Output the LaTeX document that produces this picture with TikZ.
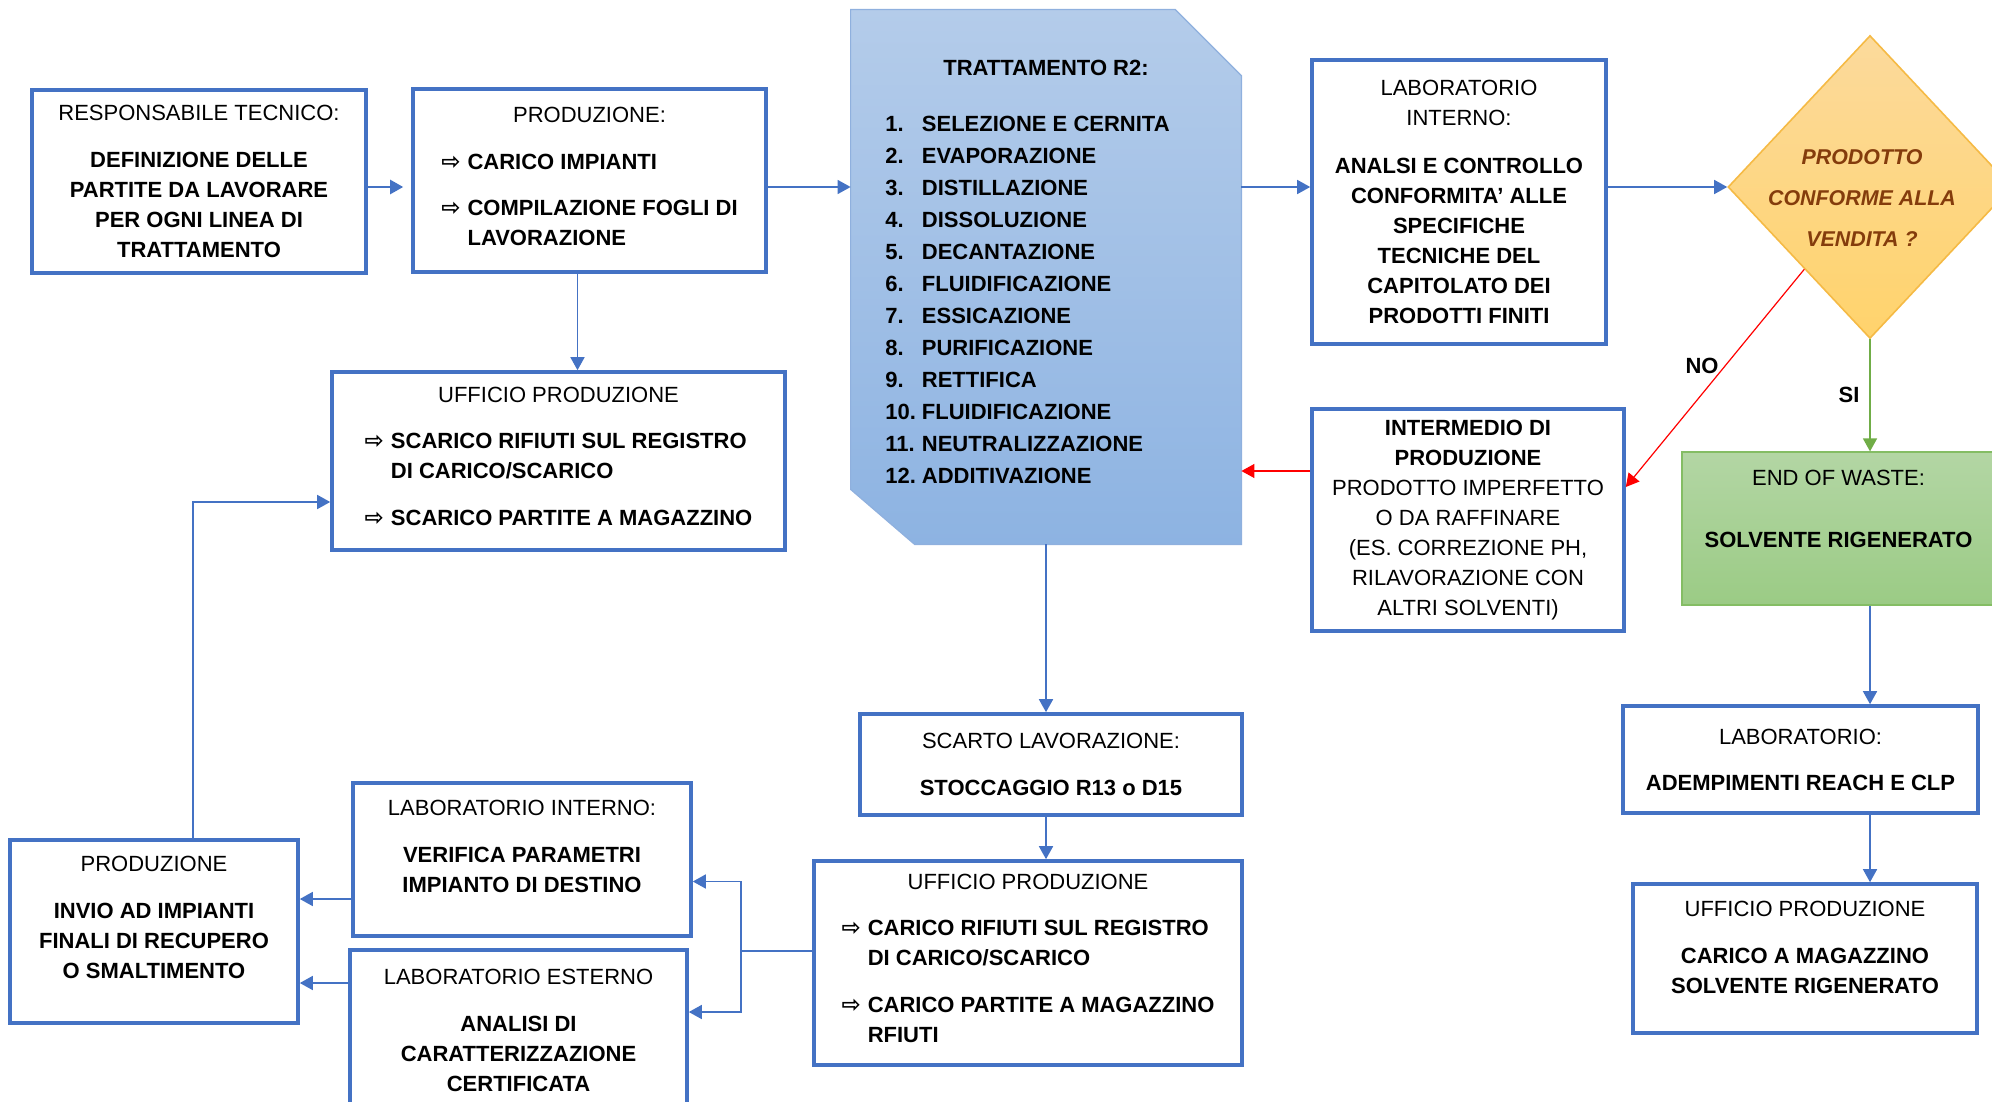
\documentclass[tikz,border=0pt]{standalone}
\usepackage{fontspec}
\setmainfont{Liberation Sans}
\newfontfamily\arrowfont{DejaVu Sans}
\usepackage{tikz}
\usetikzlibrary{arrows.meta,positioning,calc,shapes.geometric,backgrounds}

\definecolor{boxBlue}{HTML}{4472C4}
\definecolor{trattTop}{HTML}{B4CCEA}
\definecolor{trattBot}{HTML}{8DB3E2}
\definecolor{trattEdge}{HTML}{8FB0DE}
\definecolor{decTop}{HTML}{FCDA9C}
\definecolor{decBot}{HTML}{FFD36C}
\definecolor{decEdge}{HTML}{F5BA45}
\definecolor{decText}{HTML}{843C0C}
\definecolor{eowTop}{HTML}{B3D6A4}
\definecolor{eowBot}{HTML}{9BCB85}
\definecolor{eowEdge}{HTML}{84BD64}
\definecolor{siGreen}{HTML}{70AD47}

\newcommand{\freccia}{{\arrowfont\bfseries\fontsize{11.5}{15}\selectfont ⇨}}

\begin{document}
\begin{tikzpicture}[
  x=0.5pt, y=-0.5pt,
  every node/.style={font=\fontsize{11}{15}\selectfont},
  process/.style={draw=boxBlue, line width=1.8pt, fill=white, align=center, inner sep=0pt},
  treatment/.style={align=center, inner sep=0pt, font=\fontsize{11}{16}\selectfont\bfseries},
  decisionbox/.style={diamond, draw=decEdge, line width=0.8pt, top color=decTop, bottom color=decBot, inner sep=0pt, minimum width=142pt, minimum height=151.5pt},
  decisiontext/.style={align=center, text=decText, font=\fontsize{10.7}{20.5}\selectfont\bfseries\itshape},
  endbox/.style={draw=eowEdge, line width=0.6pt, top color=eowTop, bottom color=eowBot, align=center, inner sep=0pt},
  answer/.style={font=\fontsize{11}{15}\selectfont\bfseries},
  link/.style={draw=boxBlue, line width=0.8pt},
  arrow/.style={-{Triangle[length=6.5pt,width=7pt]}, draw=boxBlue, line width=0.8pt},
  noarrow/.style={-{Triangle[length=6.5pt,width=7pt]}, draw=red, line width=0.6pt},
  siarrow/.style={-{Triangle[length=6.5pt,width=7pt]}, draw=siGreen, line width=0.8pt}
]
\useasboundingbox (0,0) rectangle (1992,1102);

% top row
\node[process, minimum width=167pt, minimum height=91.5pt] (respTec) at (199,181.5)
  {RESPONSABILE TECNICO:\\[8.5pt]\textbf{DEFINIZIONE DELLE}\\\textbf{PARTITE DA LAVORARE}\\\textbf{PER OGNI LINEA DI}\\\textbf{TRATTAMENTO}};
\node[process, minimum width=176.5pt, minimum height=91.5pt] (prodCarico) at (589.5,180.5)
  {PRODUZIONE:\\[8.5pt]
   \begin{tabular}[t]{@{}l@{\hspace{3.5pt}}l@{}}
   \freccia & \textbf{CARICO IMPIANTI}\\[8pt]
   \freccia & \textbf{COMPILAZIONE FOGLI DI}\\
            & \textbf{LAVORAZIONE}
   \end{tabular}};
\node[process, minimum width=226.5pt, minimum height=89pt] (uffScarico) at (558.5,461)
  {UFFICIO PRODUZIONE\\[8pt]
   \begin{tabular}[t]{@{}l@{\hspace{3.5pt}}l@{}}
   \freccia & \textbf{SCARICO RIFIUTI SUL REGISTRO}\\
            & \textbf{DI CARICO/SCARICO}\\[8.5pt]
   \freccia & \textbf{SCARICO PARTITE A MAGAZZINO}
   \end{tabular}};

\node[treatment, minimum width=195pt, minimum height=267pt] (trattR2) at (1046,277)
  {TRATTAMENTO R2:\\[12pt]
   \begin{tabular}[t]{@{}l@{\hspace{3pt}}l@{\hspace{18.5pt}}}
   1. & SELEZIONE E CERNITA\\
   2. & EVAPORAZIONE\\
   3. & DISTILLAZIONE\\
   4. & DISSOLUZIONE\\
   5. & DECANTAZIONE\\
   6. & FLUIDIFICAZIONE\\
   7. & ESSICAZIONE\\
   8. & PURIFICAZIONE\\
   9. & RETTIFICA\\
   10. & FLUIDIFICAZIONE\\
   11. & NEUTRALIZZAZIONE\\
   12. & ADDITIVAZIONE
   \end{tabular}};
\begin{scope}[on background layer]
  \path[draw=trattEdge, line width=0.6pt, top color=trattTop, bottom color=trattBot]
    (trattR2.north west) -- ([xshift=-33pt]trattR2.north east) -- ([yshift=-33pt]trattR2.north east)
    -- (trattR2.south east) -- ([xshift=32pt]trattR2.south west) -- ([yshift=27.5pt]trattR2.south west) -- cycle;
\end{scope}

\node[process, minimum width=147pt, minimum height=142pt] (labInterno) at (1459,202)
  {LABORATORIO\\INTERNO:\\[9pt]\textbf{ANALSI E CONTROLLO}\\\textbf{CONFORMITA’ ALLE}\\\textbf{SPECIFICHE}\\\textbf{TECNICHE DEL}\\\textbf{CAPITOLATO DEI}\\\textbf{PRODOTTI FINITI}};

\node[decisionbox] (decision) at (1870,187) {};
\node[decisiontext] (decisionText) at (1862,198) {PRODOTTO\\CONFORME ALLA\\VENDITA ?};

\node[process, minimum width=156pt, minimum height=111pt] (intermedio) at (1468,520)
  {\textbf{INTERMEDIO DI}\\\textbf{PRODUZIONE}\\PRODOTTO IMPERFETTO\\O DA RAFFINARE\\(ES. CORREZIONE PH,\\RILAVORAZIONE CON\\ALTRI SOLVENTI)};

\node[endbox, minimum width=156.5pt, minimum height=76.5pt] (endWaste) at (1838.5,528.5)
  {END OF WASTE:\\[16pt]\textbf{SOLVENTE RIGENERATO}\\[5pt]\mbox{}};

\node[answer] (labelNo) at (1702,366) {NO};
\node[answer] (labelSi) at (1849,395) {SI};

% right column
\node[process, minimum width=177.5pt, minimum height=53.5pt] (labReach) at (1800.5,759.5)
  {LABORATORIO:\\[8pt]\textbf{ADEMPIMENTI REACH E CLP}};
\node[process, minimum width=172pt, minimum height=74.5pt] (uffSolvente) at (1805,958.5)
  {UFFICIO PRODUZIONE\\[8.5pt]\textbf{CARICO A MAGAZZINO}\\\textbf{SOLVENTE RIGENERATO}\\[-3.5pt]\mbox{}};

% bottom row
\node[process, minimum width=191pt, minimum height=50.5pt] (scartoLav) at (1051,764.5)
  {SCARTO LAVORAZIONE:\\[8.5pt]\textbf{STOCCAGGIO R13 o D15}};
\node[process, minimum width=214pt, minimum height=102pt] (uffRifiuti) at (1028,963)
  {UFFICIO PRODUZIONE\\[8pt]
   \begin{tabular}[t]{@{}l@{\hspace{3.5pt}}l@{}}
   \freccia & \textbf{CARICO RIFIUTI SUL REGISTRO}\\
            & \textbf{DI CARICO/SCARICO}\\[8.5pt]
   \freccia & \textbf{CARICO PARTITE A MAGAZZINO}\\
            & \textbf{RFIUTI}
   \end{tabular}};
\node[process, minimum width=169pt, minimum height=76.5pt] (labVerifica) at (522,859.5)
  {LABORATORIO INTERNO:\\[8.5pt]\textbf{VERIFICA PARAMETRI}\\\textbf{IMPIANTO DI DESTINO}\\[-1.5pt]\mbox{}};
\node[process, minimum width=168.5pt, minimum height=80pt] (labEsterno) at (518.5,1030)
  {LABORATORIO ESTERNO\\[8.5pt]\textbf{ANALISI DI}\\\textbf{CARATTERIZZAZIONE}\\\textbf{CERTIFICATA}};
\node[process, minimum width=144pt, minimum height=91.5pt] (prodInvio) at (154,931.5)
  {PRODUZIONE\\[8.5pt]\textbf{INVIO AD IMPIANTI}\\\textbf{FINALI DI RECUPERO}\\\textbf{O SMALTIMENTO}\\[-1pt]\mbox{}};

% connectors
\draw[arrow, line width=1.2pt, shorten >=4pt] (respTec.east |- decision) -- (prodCarico.west |- decision);
\draw[arrow] (prodCarico.east |- decision) -- (trattR2.west |- decision);
\draw[arrow] ([xshift=-6pt]prodCarico.south) -- ([xshift=-6pt]prodCarico.south |- uffScarico.north);
\draw[arrow] (trattR2.east |- decision) -- (labInterno.west |- decision);
\draw[arrow] (labInterno.east |- decision) -- (decision.west);
\draw[noarrow] ($(decision.west)!0.54!(decision.south)$) -- ([yshift=16.5pt]intermedio.east);
\draw[siarrow] (decision.south) -- (decision.south |- endWaste.north);
\coordinate (redBack) at ([yshift=24.5pt]intermedio.west);
\draw[noarrow] (redBack) -- (redBack -| trattR2.east);

\draw[arrow] (decision.south |- endWaste.south) -- (decision.south |- labReach.north);
\draw[arrow] (decision.south |- labReach.south) -- (decision.south |- uffSolvente.north);

\draw[arrow] (trattR2.south) -- (trattR2.south |- scartoLav.north);
\draw[arrow] (trattR2.south |- scartoLav.south) -- (trattR2.south |- uffRifiuti.north);

\coordinate (uffOut) at ([yshift=6pt]uffRifiuti.west);
\coordinate (split) at ($(uffOut)+(-71,0)$);
\draw[link] (uffOut) -- (split);
\draw[arrow] (split) |- ([yshift=-11pt]labVerifica.east);
\draw[arrow] (split) |- ([yshift=9pt]labEsterno.east);

\coordinate (verOut) at ([yshift=-19.75pt]labVerifica.west);
\draw[arrow] (verOut) -- (verOut -| prodInvio.east);
\coordinate (estOut) at ([yshift=23.5pt]labEsterno.west);
\draw[arrow] (estOut) -- (estOut -| prodInvio.east);

\draw[arrow] ([xshift=19.5pt]prodInvio.north) |- ([yshift=-20.5pt]uffScarico.west);

\end{tikzpicture}
\end{document}
